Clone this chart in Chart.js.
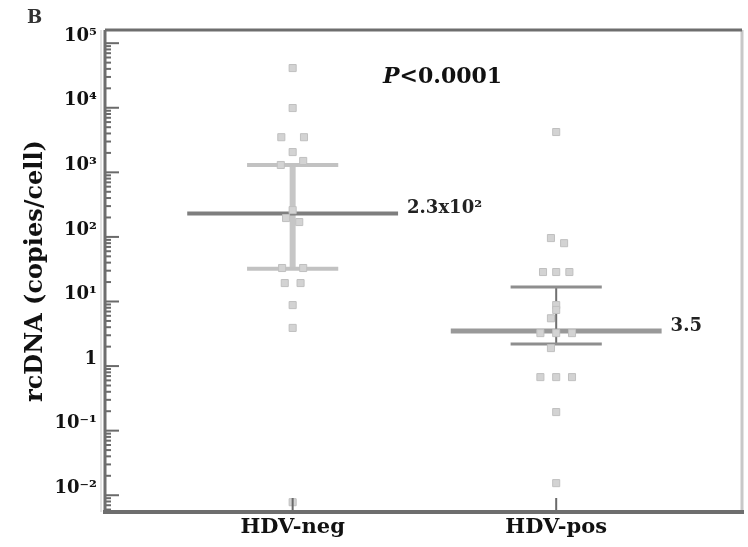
<!DOCTYPE html>
<html>
<head>
<meta charset="utf-8">
<script src="https://cdn.jsdelivr.net/npm/chart.js@4.4.1/dist/chart.umd.min.js"></script>
<style>
  html, body { margin: 0; padding: 0; background: #fff; }
  #wrap { width: 748px; height: 547px; }
</style>
</head>
<body>
<div id="wrap"><canvas id="chart"></canvas></div>
<script>
// groups on the x axis (x = 0 and x = 1)
const groups = ['HDV-neg', 'HDV-pos'];

// rcDNA copies/cell; jitter spreads points that overlap
const negValues = [41200, 9900, 3500, 3500, 2060, 1300, 1500, 260, 196, 170, 33, 33, 19.3, 19.3, 8.8, 3.9, 0.0078];
const negJitter = [0, 0, -0.043, 0.043, 0, -0.045, 0.04, 0, -0.025, 0.025, -0.04, 0.04, -0.03, 0.03, 0, 0, 0];
const posValues = [4210, 96, 80, 28.6, 28.6, 28.6, 8.8, 7.4, 5.5, 3.24, 3.24, 3.24, 1.9, 0.675, 0.675, 0.675, 0.194, 0.0154];
const posJitter = [0, -0.02, 0.03, -0.05, 0, 0.05, 0, 0, -0.02, -0.06, 0, 0.06, -0.02, -0.06, 0, 0.06, 0, 0];

// median and interquartile range per group
const medians = [230, 3.5];
const upperBars = [1300, 16.7];
const lowerBars = [32, 2.2];
const medianLabels = ['2.3x10²', '3.5'];

// y axis decades and their labels
const decadeExps = [-2, -1, 0, 1, 2, 3, 4, 5];
const decadeLabels = ['10⁻²', '10⁻¹', '1', '10¹', '10²', '10³', '10⁴', '10⁵'];

const serif = "'DejaVu Serif', 'Liberation Serif', serif";
const medHalf = 0.40;
const barHalf = 0.173;

function hLine(x, y, half) {
  return [{x: x - half, y: y}, {x: x + half, y: y}];
}

let datasets = [
  {
    data: negValues.map((v, i) => ({x: 0 + negJitter[i], y: v})),
    order: 0
  },
  {
    data: posValues.map((v, i) => ({x: 1 + posJitter[i], y: v})),
    order: 0
  },
  // vertical range lines
  {data: [{x: 0, y: upperBars[0]}, {x: 0, y: lowerBars[0]}], showLine: true, borderColor: '#c6c6c6', borderWidth: 6, pointRadius: 0, order: 2},
  {data: [{x: 1, y: upperBars[1]}, {x: 1, y: lowerBars[1]}], showLine: true, borderColor: '#707070', borderWidth: 2, pointRadius: 0, order: 2},
  // quartile bars
  {data: hLine(0, upperBars[0], barHalf), showLine: true, borderColor: '#c2c2c2', borderWidth: 4, pointRadius: 0, order: 1},
  {data: hLine(0, lowerBars[0], barHalf), showLine: true, borderColor: '#c2c2c2', borderWidth: 4, pointRadius: 0, order: 1},
  {data: hLine(1, upperBars[1], barHalf), showLine: true, borderColor: '#8e8e8e', borderWidth: 3, pointRadius: 0, order: 1},
  {data: hLine(1, lowerBars[1], barHalf), showLine: true, borderColor: '#8e8e8e', borderWidth: 3, pointRadius: 0, order: 1},
  // medians
  {data: hLine(0, medians[0], medHalf), showLine: true, borderColor: '#7e7e7e', borderWidth: 4, pointRadius: 0, order: 1},
  {data: hLine(1, medians[1], medHalf), showLine: true, borderColor: '#999999', borderWidth: 5, pointRadius: 0, order: 1}
];

datasets.forEach(function (d, i) {
  if (i < 2) {
    d.pointStyle = 'rect';
    d.pointRadius = 5;
    d.backgroundColor = '#d3d3d3';
    d.borderColor = '#c0c0c0';
    d.borderWidth = 1;
    d.showLine = false;
  }
});

const framePlugin = {
  id: 'frame',
  afterDraw(chart) {
    const ctx = chart.ctx;
    const a = chart.chartArea;
    const ys = chart.scales.y;
    const xs = chart.scales.x;
    ctx.save();

    // tick marks pointing into the plot
    ctx.strokeStyle = '#6a6a6a';
    ctx.lineWidth = 2;
    ys.ticks.forEach(function (t) {
      const p = ys.getPixelForValue(t.value);
      const e = Math.log10(t.value);
      const len = Math.abs(e - Math.round(e)) < 1e-9 ? 14 : 6;
      ctx.beginPath();
      ctx.moveTo(a.left, p);
      ctx.lineTo(a.left + len, p);
      ctx.stroke();
    });
    groups.forEach(function (g, i) {
      const p = xs.getPixelForValue(i);
      ctx.beginPath();
      ctx.moveTo(p, a.bottom);
      ctx.lineTo(p, a.bottom - 14);
      ctx.stroke();
    });

    // frame
    ctx.lineWidth = 3;
    ctx.strokeStyle = '#c8c8c8';
    ctx.beginPath();
    ctx.moveTo(a.right, a.top);
    ctx.lineTo(a.right, a.bottom);
    ctx.stroke();
    ctx.beginPath();
    ctx.moveTo(a.left - 4, a.top);
    ctx.lineTo(a.left - 4, a.bottom);
    ctx.lineWidth = 1;
    ctx.stroke();
    ctx.lineWidth = 3;
    ctx.strokeStyle = '#6e6e6e';
    ctx.beginPath();
    ctx.moveTo(a.left, a.top);
    ctx.lineTo(a.right, a.top);
    ctx.stroke();
    ctx.beginPath();
    ctx.moveTo(a.left, a.top);
    ctx.lineTo(a.left, a.bottom);
    ctx.stroke();
    ctx.lineWidth = 4;
    ctx.beginPath();
    ctx.moveTo(a.left - 2, a.bottom);
    ctx.lineTo(a.right + 2, a.bottom);
    ctx.stroke();

    // median labels
    ctx.fillStyle = '#222';
    ctx.font = 'bold 18px ' + serif;
    ctx.textAlign = 'left';
    ctx.textBaseline = 'middle';
    medians.forEach(function (m, i) {
      const px = xs.getPixelForValue(i + medHalf) + 9;
      const py = ys.getPixelForValue(m) - 5;
      ctx.fillText(medianLabels[i], px, py);
    });

    // P value
    ctx.font = 'italic bold 22px ' + serif;
    ctx.fillStyle = '#111';
    ctx.fillText('P', 383, 77);
    const w = ctx.measureText('P').width;
    ctx.font = 'bold 22px ' + serif;
    ctx.fillText('<0.0001', 383 + w, 77);

    // panel letter
    ctx.font = 'bold 18px ' + serif;
    ctx.fillStyle = '#333';
    ctx.fillText('B', 27, 18);
    ctx.restore();
  }
};

new Chart(document.getElementById('chart'), {
  type: 'scatter',
  data: {datasets: datasets},
  plugins: [framePlugin],
  options: {
    responsive: true,
    maintainAspectRatio: false,
    animation: false,
    layout: {padding: {top: 30, right: 5, left: 0, bottom: 0}},
    plugins: {legend: {display: false}, tooltip: {enabled: false}},
    scales: {
      x: {
        type: 'linear',
        min: -0.712,
        max: 1.705,
        grid: {display: false, drawTicks: false},
        border: {display: false},
        afterBuildTicks: function (scale) {
          scale.ticks = groups.map((g, i) => ({value: i}));
        },
        afterFit: function (scale) { scale.height = 35; },
        ticks: {
          padding: 3,
          color: '#111',
          font: {family: serif, size: 21, weight: 'bold'},
          callback: function (v) { return groups[Math.round(v)]; }
        }
      },
      y: {
        type: 'logarithmic',
        min: 0.0055,
        max: 160000,
        grid: {display: false, drawTicks: false},
        border: {display: false},
        afterBuildTicks: function (scale) {
          const t = [];
          for (let e = -3; e <= 5; e++) {
            for (let m = 1; m <= 9; m++) {
              const v = m * Math.pow(10, e);
              if (v >= scale.min && v <= scale.max) t.push({value: v});
            }
          }
          scale.ticks = t;
        },
        afterFit: function (scale) { scale.width = 105; },
        title: {
          display: true,
          text: 'rcDNA (copies/cell)',
          color: '#111',
          font: {family: serif, size: 24, weight: 'bold'},
          padding: {top: 21, bottom: 0}
        },
        ticks: {
          autoSkip: false,
          padding: 8,
          labelOffset: -7,
          color: '#111',
          font: {family: serif, size: 18, weight: 'bold'},
          callback: function (v) {
            const e = Math.round(Math.log10(v));
            if (Math.abs(Math.log10(v) - e) > 1e-9) return '';
            const k = decadeExps.indexOf(e);
            return k >= 0 ? decadeLabels[k] : '';
          }
        }
      }
    }
  }
});
</script>
</body>
</html>
